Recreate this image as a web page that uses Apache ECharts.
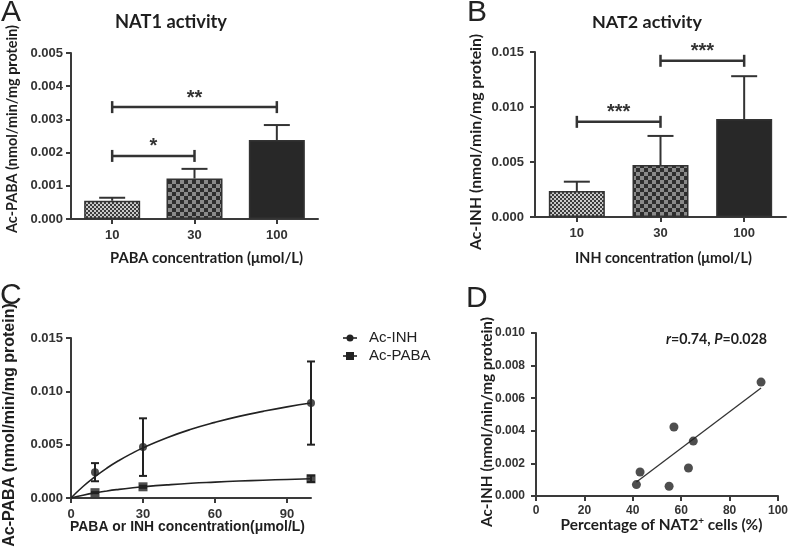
<!DOCTYPE html>
<html><head><meta charset="utf-8">
<script src="https://cdn.jsdelivr.net/npm/echarts@6/dist/echarts.min.js"></script>
<style>html,body{margin:0;padding:0;background:#fff}#c{width:791px;height:548px}</style>
</head><body><div id="c"></div>
<script>
// ---- Data ----
const catsA = ['10', '30', '100'];
const nat1Mean = [0.00055, 0.00122, 0.00238];
const nat1Err = [0.00009, 0.00029, 0.00045];
const sigA = [[0, 1, 0.0019, '*'], [0, 2, 0.00337, '**']];

const catsB = ['10', '30', '100'];
const nat2Mean = [0.00236, 0.00472, 0.0089];
const nat2Err = [0.00085, 0.00265, 0.0039];
const sigB = [[0, 1, 0.00865, '***'], [1, 2, 0.0142, '***']];

const concC = [10, 30, 100];
const inhMean = [0.00242, 0.00477, 0.0089];
const inhErr = [0.00085, 0.0027, 0.0039];
const pabaMean = [0.0005, 0.00105, 0.0018];
const pabaErr = [0.00005, 0.0001, 0.0003];
const fitX = [0, 5, 10, 15, 20, 25, 30, 40, 50, 60, 70, 80, 90, 100];
const inhFit = [0, 0.00108, 0.0020, 0.00281, 0.00352, 0.00414, 0.0047, 0.00565, 0.00644, 0.00709, 0.00765, 0.00812, 0.00854, 0.0089];
const pabaFit = [0, 0.00026, 0.00048, 0.00066, 0.00081, 0.00094, 0.00105, 0.00123, 0.00138, 0.00149, 0.00159, 0.00167, 0.00174, 0.0018];
const xTicksC = [0, 30, 60, 90];

const pctNat2 = [41.5, 43, 55, 57, 63, 65, 93];
const acInh = [0.0007, 0.00147, 0.0006, 0.00423, 0.00172, 0.00337, 0.00699];
const regX = [41.5, 93];
const regY = [0.00086, 0.00663];

// ---- Helpers ----
function pattern(size, c1, c2) {
  const cv = document.createElement('canvas');
  cv.width = size * 2; cv.height = size * 2;
  const g = cv.getContext('2d');
  g.fillStyle = c1; g.fillRect(0, 0, size * 2, size * 2);
  g.fillStyle = c2; g.fillRect(0, 0, size, size); g.fillRect(size, size, size, size);
  return { image: cv, repeat: 'repeat' };
}
const fills = [pattern(2, '#3c3c3c', '#cacaca'), pattern(4, '#2e2e2e', '#8a8a8a'), '#282828'];

const mctx = document.createElement('canvas').getContext('2d');
function fitSize(str, weight, family, target) {
  mctx.font = weight + ' 100px ' + family;
  return 100 * target / mctx.measureText(str).width;
}
const HS = 'Lato, "Open Sans", sans-serif';
const AR = '"Liberation Sans", Arial, sans-serif';
function label(str, family, cx, cy, len, vertical) {
  const fs = fitSize(str, 'bold', family, len);
  return { type: 'text', x: cx, y: cy, rotation: vertical ? Math.PI / 2 : 0,
    style: { text: str, align: 'center', verticalAlign: 'middle', font: 'bold ' + fs.toFixed(2) + 'px ' + family, fill: '#1e1e1e' } };
}

const AX = '#3a3a3a';
const tickFont = { color: '#333', fontWeight: 'bold', fontSize: 13, fontFamily: 'Liberation Sans, Arial, sans-serif' };

function baseAxis(extra) {
  return Object.assign({
    axisLine: { show: true, lineStyle: { color: AX, width: 2 } },
    axisTick: { show: true, length: 5, lineStyle: { color: AX, width: 2 } },
    splitLine: { show: false },
  }, extra);
}
const fmt3 = v => v.toFixed(3);

function errUp(params, api) {
  const i = api.value(0), m = api.value(1), e = api.value(2);
  const p0 = api.coord([i, m]), p1 = api.coord([i, m + e]);
  const hw = 13;
  const st = { stroke: '#333', lineWidth: 2 };
  return { type: 'group', children: [
    { type: 'line', shape: { x1: p0[0], y1: p0[1], x2: p1[0], y2: p1[1] }, style: st },
    { type: 'line', shape: { x1: p1[0] - hw, y1: p1[1], x2: p1[0] + hw, y2: p1[1] }, style: st }
  ]};
}
function errBoth(params, api) {
  const x = api.value(0), m = api.value(1), e = api.value(2);
  const p0 = api.coord([x, m - e]), p1 = api.coord([x, m + e]);
  const hw = 4;
  const st = { stroke: '#222', lineWidth: 2 };
  return { type: 'group', children: [
    { type: 'line', shape: { x1: p0[0], y1: p0[1], x2: p1[0], y2: p1[1] }, style: st },
    { type: 'line', shape: { x1: p1[0] - hw, y1: p1[1], x2: p1[0] + hw, y2: p1[1] }, style: st },
    { type: 'line', shape: { x1: p0[0] - hw, y1: p0[1], x2: p0[0] + hw, y2: p0[1] }, style: st }
  ]};
}
function sigRender(list) {
  return function (params, api) {
    const a = api.coord([api.value(0), api.value(2)]);
    const b = api.coord([api.value(1), api.value(2)]);
    const st = { stroke: '#333', lineWidth: 2.5 };
    const lab = list[params.dataIndex][3];
    return { type: 'group', children: [
      { type: 'line', shape: { x1: a[0], y1: a[1], x2: b[0], y2: b[1] }, style: st },
      { type: 'line', shape: { x1: a[0], y1: a[1] - 6, x2: a[0], y2: a[1] + 6 }, style: st },
      { type: 'line', shape: { x1: b[0], y1: b[1] - 6, x2: b[0], y2: b[1] + 6 }, style: st },
      { type: 'text', style: { x: (a[0] + b[0]) / 2, y: a[1] + 1, text: lab, align: 'center', verticalAlign: 'bottom',
        fill: '#333', font: 'bold 20px Liberation Sans, Arial, sans-serif' } }
    ]};
  };
}

const dxSize = fitSize('Percentage of NAT2+ cells (%)', 'bold', HS, 205);
const rSize = fitSize('r=0.74, P=0.028', 'bold', HS, 102);

const chart = echarts.init(document.getElementById('c'), null, { renderer: 'canvas' });

const option = {
  animation: false,
  backgroundColor: '#fff',
  grid: [
    { left: 71, top: 53, width: 247, height: 166 },
    { left: 535, top: 52, width: 251, height: 165 },
    { left: 71, top: 338, width: 240, height: 160 },
    { left: 536, top: 333, width: 245, height: 163 }
  ],
  xAxis: [
    baseAxis({ gridIndex: 0, type: 'category', data: catsA, axisTick: { show: true, alignWithLabel: true, length: 5, lineStyle: { color: AX, width: 2 } },
      axisLabel: Object.assign({ margin: 10 }, tickFont) }),
    baseAxis({ gridIndex: 1, type: 'category', data: catsB, axisTick: { show: true, alignWithLabel: true, length: 5, lineStyle: { color: AX, width: 2 } },
      axisLabel: Object.assign({ margin: 10 }, tickFont) }),
    baseAxis({ gridIndex: 2, type: 'value', min: 0, max: 100, interval: 30,
      axisTick: { show: true, length: 5, lineStyle: { color: AX, width: 2 }, customValues: xTicksC },
      axisLabel: Object.assign({ margin: 10, customValues: xTicksC }, tickFont) }),
    baseAxis({ gridIndex: 3, type: 'value', min: 0, max: 100, interval: 20,
      axisLabel: Object.assign({ margin: 9 }, tickFont, { fontSize: 12 }) })
  ],
  yAxis: [
    baseAxis({ gridIndex: 0, type: 'value', min: 0, max: 0.005, interval: 0.001,
      axisLabel: Object.assign({ margin: 8, formatter: fmt3 }, tickFont) }),
    baseAxis({ gridIndex: 1, type: 'value', min: 0, max: 0.015, interval: 0.005,
      axisLabel: Object.assign({ margin: 11, formatter: fmt3 }, tickFont) }),
    baseAxis({ gridIndex: 2, type: 'value', min: 0, max: 0.015, interval: 0.005,
      axisLabel: Object.assign({ margin: 8, formatter: fmt3 }, tickFont) }),
    baseAxis({ gridIndex: 3, type: 'value', min: 0, max: 0.010, interval: 0.002,
      axisLabel: Object.assign({ margin: 11, formatter: fmt3 }, tickFont, { fontSize: 12 }) })
  ],
  series: [
    { type: 'bar', xAxisIndex: 0, yAxisIndex: 0, barWidth: 56,
      data: nat1Mean.map((v, i) => ({ value: v, itemStyle: { color: fills[i], borderColor: '#333', borderWidth: 1.5 } })) },
    { type: 'custom', xAxisIndex: 0, yAxisIndex: 0, renderItem: errUp, encode: { x: 0, y: 1 },
      data: nat1Mean.map((v, i) => [i, v, nat1Err[i]]), z: 3 },
    { type: 'custom', xAxisIndex: 0, yAxisIndex: 0, renderItem: sigRender(sigA), encode: { x: [0, 1], y: 2 },
      data: sigA.map(s => [s[0], s[1], s[2]]), z: 4 },

    { type: 'bar', xAxisIndex: 1, yAxisIndex: 1, barWidth: 56,
      data: nat2Mean.map((v, i) => ({ value: v, itemStyle: { color: fills[i], borderColor: '#333', borderWidth: 1.5 } })) },
    { type: 'custom', xAxisIndex: 1, yAxisIndex: 1, renderItem: errUp, encode: { x: 0, y: 1 },
      data: nat2Mean.map((v, i) => [i, v, nat2Err[i]]), z: 3 },
    { type: 'custom', xAxisIndex: 1, yAxisIndex: 1, renderItem: sigRender(sigB), encode: { x: [0, 1], y: 2 },
      data: sigB.map(s => [s[0], s[1], s[2]]), z: 4 },

    { type: 'line', name: 'Ac-INH fit', xAxisIndex: 2, yAxisIndex: 2, smooth: true, symbol: 'none',
      lineStyle: { color: '#222', width: 1.6 }, data: fitX.map((x, i) => [x, inhFit[i]]) },
    { type: 'line', name: 'Ac-PABA fit', xAxisIndex: 2, yAxisIndex: 2, smooth: true, symbol: 'none',
      lineStyle: { color: '#222', width: 1.6 }, data: fitX.map((x, i) => [x, pabaFit[i]]) },
    { type: 'custom', xAxisIndex: 2, yAxisIndex: 2, renderItem: errBoth, encode: { x: 0, y: 1 },
      data: concC.map((x, i) => [x, inhMean[i], inhErr[i]]), z: 3 },
    { type: 'custom', xAxisIndex: 2, yAxisIndex: 2, renderItem: errBoth, encode: { x: 0, y: 1 },
      data: concC.map((x, i) => [x, pabaMean[i], pabaErr[i]]), z: 3 },
    { type: 'scatter', name: 'Ac-INH', xAxisIndex: 2, yAxisIndex: 2, symbol: 'circle', symbolSize: 8,
      itemStyle: { color: '#222' }, data: concC.map((x, i) => [x, inhMean[i]]), z: 5 },
    { type: 'scatter', name: 'Ac-PABA', xAxisIndex: 2, yAxisIndex: 2, symbol: 'rect', symbolSize: 9,
      itemStyle: { color: '#222' }, data: concC.map((x, i) => [x, pabaMean[i]]), z: 5 },

    { type: 'scatter', xAxisIndex: 3, yAxisIndex: 3, symbol: 'circle', symbolSize: 9,
      itemStyle: { color: '#222' }, data: pctNat2.map((x, i) => [x, acInh[i]]), z: 5 },
    { type: 'line', xAxisIndex: 3, yAxisIndex: 3, symbol: 'none',
      lineStyle: { color: '#333', width: 1.3 }, data: regX.map((x, i) => [x, regY[i]]) }
  ],
  graphic: [
    { type: 'text', left: 1, top: -2, style: { text: 'A', font: '30px Liberation Sans Narrow, Liberation Sans, Arial', fill: '#222' } },
    { type: 'text', left: 467, top: -2, style: { text: 'B', font: '30px Liberation Sans Narrow, Liberation Sans, Arial', fill: '#222' } },
    { type: 'text', left: 0, top: 281, style: { text: 'C', font: '30px Liberation Sans Narrow, Liberation Sans, Arial', fill: '#222' } },
    { type: 'text', left: 466, top: 284, style: { text: 'D', font: '30px Liberation Sans Narrow, Liberation Sans, Arial', fill: '#222' } },
    label('NAT1 activity', HS, 171, 22, 112, false),
    label('NAT2 activity', HS, 647, 22, 110, false),
    // axis names
    label('Ac-PABA (nmol/min/mg protein)', HS, 12, 129, 208, true),
    label('PABA concentration (μmol/L)', HS, 206.5, 258, 193, false),
    label('Ac-INH (nmol/min/mg protein)', HS, 476, 142, 216, true),
    label('INH concentration (μmol/L)', HS, 663.5, 258, 177, false),
    label('Ac-PABA (nmol/min/mg protein)', AR, 10, 425, 244, true),
    label('PABA or INH concentration(μmol/L)', AR, 187.5, 527, 235, false),
    label('Ac-INH (nmol/min/mg protein)', HS, 487, 422, 210, true),
    { type: 'text', x: 661.5, y: 525, style: { text: '{n|Percentage of NAT2}{s|+}{n| cells (%)}', align: 'center', verticalAlign: 'middle',
      rich: { n: { fontWeight: 'bold', fontSize: dxSize, fontFamily: HS, fill: '#1e1e1e' },
              s: { fontWeight: 'bold', fontSize: dxSize * 0.65, fontFamily: HS, fill: '#1e1e1e', padding: [0, 0, 8, 0] } } } },
    // legend C
    { type: 'line', shape: { x1: 343, y1: 338, x2: 357, y2: 338 }, style: { stroke: '#222', lineWidth: 1.6 } },
    { type: 'circle', shape: { cx: 350, cy: 338, r: 3.5 }, style: { fill: '#222' } },
    { type: 'text', x: 369, y: 338, style: { text: 'Ac-INH', verticalAlign: 'middle', font: '15px Liberation Sans, Arial, sans-serif', fill: '#222' } },
    { type: 'line', shape: { x1: 343, y1: 356, x2: 357, y2: 356 }, style: { stroke: '#222', lineWidth: 1.6 } },
    { type: 'rect', shape: { x: 346, y: 352, width: 8, height: 8 }, style: { fill: '#222' } },
    { type: 'text', x: 369, y: 356, style: { text: 'Ac-PABA', verticalAlign: 'middle', font: '15px Liberation Sans, Arial, sans-serif', fill: '#222' } },
    // annotation D
    { type: 'text', x: 767, y: 339, style: { text: '{i|r}{n|=0.74, }{i|P}{n|=0.028}', align: 'right', verticalAlign: 'middle',
      rich: { i: { fontStyle: 'italic', fontWeight: 'bold', fontSize: rSize, fontFamily: HS, fill: '#1e1e1e' },
              n: { fontWeight: 'bold', fontSize: rSize, fontFamily: HS, fill: '#1e1e1e' } } } }
  ]
};
chart.setOption(option);
</script>
</body></html>
